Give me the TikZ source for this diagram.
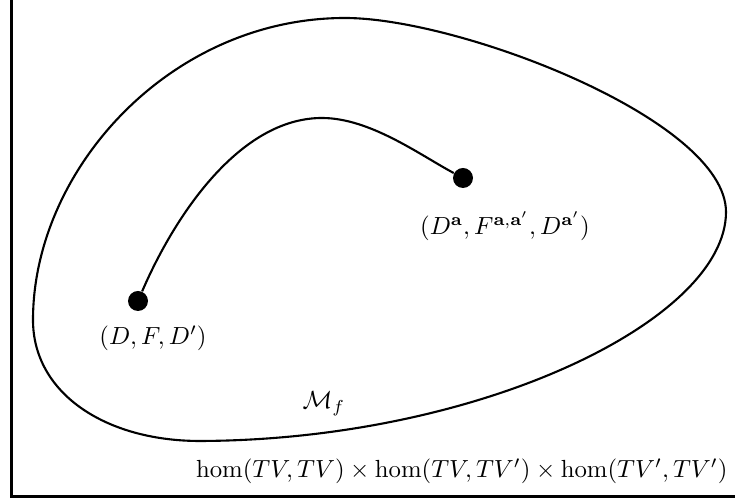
\documentclass[tikz,border=0pt]{standalone}
\usepackage{amsmath,amssymb}
\begin{document}
\begin{tikzpicture}[x=0.01419cm,y=-0.01419cm,
  dot/.style={circle,fill=black,inner sep=0pt,minimum size=20*0.01419cm},
  lbl/.style={inner sep=0pt},
  curveline/.style={line width=0.85pt}]
\useasboundingbox (0,0) rectangle (735,499);
\begin{scope}
\clip (0,0) rectangle (735,499);
\draw[line width=1pt] (11.5,-1.2) rectangle (745,496.5);
\end{scope}
\coordinate (T) at (345,18);
\coordinate (R) at (726,212);
\coordinate (B) at (200,441);
\coordinate (L) at (33,320);
\draw[curveline] (T) .. controls (460,18) and (726,120) .. (R)
  .. controls (726,320) and (480,440) .. (B)
  .. controls (105,441) and (33,393) .. (L)
  .. controls (33,170) and (170,18) .. (T) -- cycle;
\node[dot] (a) at (138,301) {};
\node[dot] (b) at (463,178) {};
\coordinate (top) at (322,118);
\draw[curveline] (a) .. controls (175,215) and (240,118) .. (top)
  .. controls (370,118) and (420,155) .. (b);
\node[lbl] (la) at (153,338) {$(D,F,D')$};
\node[lbl] (lb) at (505,226) {$(D^{\mathbf{a}},F^{\mathbf{a},\mathbf{a}'},D^{\mathbf{a}'})$};
\node[lbl] (lm) at (324,404) {$\mathcal{M}_f$};
\node[lbl,anchor=east] (lh) at (728,471) {$\hom(TV,TV)\times\hom(TV,TV')\times\hom(TV',TV')$};
\end{tikzpicture}
\end{document}
